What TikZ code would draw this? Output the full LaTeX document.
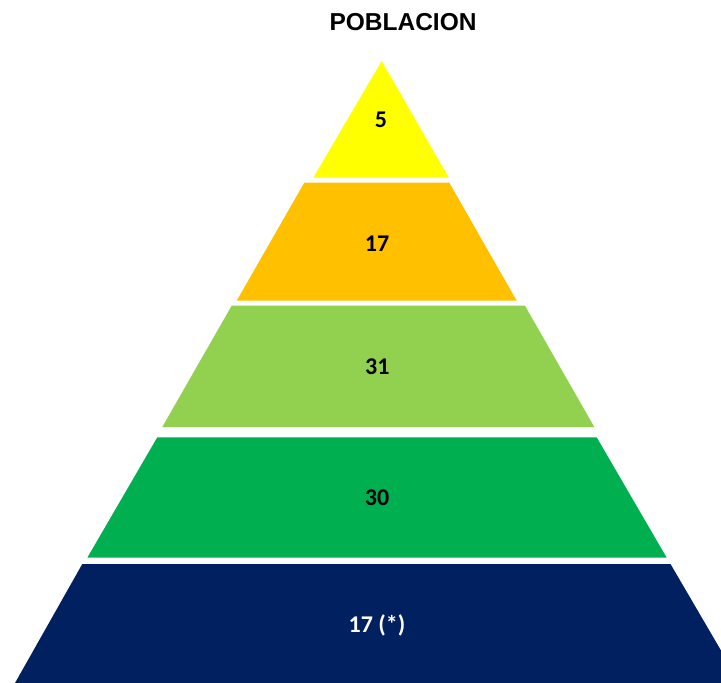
\documentclass[tikz,border=0pt]{standalone}
\usepackage{fontspec}
\setmainfont{Carlito}
\newfontfamily\titlefont{Liberation Sans}
\usepackage{xcolor}
\definecolor{amarillo}{HTML}{FFFF00}
\definecolor{naranja}{HTML}{FFC000}
\definecolor{verdeclaro}{HTML}{92D050}
\definecolor{verde}{HTML}{00B050}
\definecolor{azul}{HTML}{002060}

\begin{document}
\begin{tikzpicture}[x=1pt,y=-1pt,every node/.style={anchor=base,inner sep=0pt,font=\bfseries\fontsize{24}{24}\selectfont}]
				\useasboundingbox (0,0) rectangle (721,683);
				\clip (0,0) rectangle (721,683);
				\fill[amarillo] (381.7,61) -- (448.8,177.7) -- (313.3,177.7) -- cycle;
				\fill[naranja] (304.3,182.7) -- (449.3,182.7) -- (516.7,300.7) -- (236.7,300.7) -- cycle;
				\fill[verdeclaro] (231.7,305.7) -- (525,305.7) -- (594.3,427) -- (162.3,427) -- cycle;
				\fill[verde] (157.3,437.3) -- (596.7,437.3) -- (666.7,557.7) -- (87.3,557.7) -- cycle;
				\fill[azul] (82.3,564) -- (670.5,564) -- (740,683) -- (15,683) -- cycle;
				\node (titulo) at (403,30.7){\titlefont\fontsize{24.5}{24.5}\selectfont POBLACION};
				\node (n5) at (381,127){5};
				\node (n17) at (377,251.7){17};
				\node (n31) at (377.3,374){31};
				\node (n30) at (377,505){30};
				\node[text=white] (n17b) at (377,632.7){17 (*)};
			\end{tikzpicture}
\end{document}
